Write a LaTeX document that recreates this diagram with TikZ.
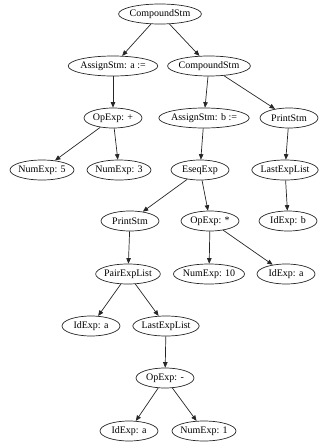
\documentclass[tikz,border=0pt]{standalone}
\usepackage{fontspec}
\setmainfont{Liberation Serif}
\usetikzlibrary{shapes.geometric,arrows.meta}
\tikzset{
  astnode/.style={draw=black!85,line width=0.7pt,ellipse,inner xsep=-1pt,inner ysep=0pt,
    minimum width=58pt,minimum height=20pt,font=\fontsize{10}{12}\selectfont},
  astedge/.style={draw=black!85,line width=0.7pt,-{Triangle[length=5.5pt,width=4.5pt]}}
}
\begin{document}
\begin{tikzpicture}[x=1pt,y=-1pt]
				\useasboundingbox (0,0) rectangle (320,442);
				\node[astnode] (c1) at (160,14) {CompoundStm};
				\node[astnode] (a1) at (113,66) {AssignStm: a :=};
				\node[astnode] (c2) at (209,66) {CompoundStm};
				\node[astnode] (op1) at (113,118) {OpExp: +};
				\node[astnode] (a2) at (204,118) {AssignStm: b :=};
				\node[astnode] (p1) at (289,118) {PrintStm};
				\node[astnode] (n5) at (42,170) {NumExp: 5};
				\node[astnode] (n3) at (119,170) {NumExp: 3};
				\node[astnode] (eseq) at (200,170) {EseqExp};
				\node[astnode] (last1) at (285,170) {LastExpList};
				\node[astnode] (p2) at (130,221) {PrintStm};
				\node[astnode] (op2) at (210,221) {OpExp: *};
				\node[astnode] (idb) at (288,221) {IdExp: b};
				\node[astnode] (pair) at (128,274) {PairExpList};
				\node[astnode] (n10) at (209,274) {NumExp: 10};
				\node[astnode] (ida1) at (286,274) {IdExp: a};
				\node[astnode] (ida2) at (91,326) {IdExp: a};
				\node[astnode] (last2) at (166,326) {LastExpList};
				\node[astnode] (op3) at (165,378) {OpExp: -};
				\node[astnode] (ida3) at (129,431) {IdExp: a};
				\node[astnode] (n1) at (204,431) {NumExp: 1};
				\draw[astedge] (c1) -- (a1);
				\draw[astedge] (c1) -- (c2);
				\draw[astedge] (a1) -- (op1);
				\draw[astedge] (c2) -- (a2);
				\draw[astedge] (c2) -- (p1);
				\draw[astedge] (op1) -- (n5);
				\draw[astedge] (op1) -- (n3);
				\draw[astedge] (a2) -- (eseq);
				\draw[astedge] (p1) -- (last1);
				\draw[astedge] (eseq) -- (p2);
				\draw[astedge] (eseq) -- (op2);
				\draw[astedge] (last1) -- (idb);
				\draw[astedge] (p2) -- (pair);
				\draw[astedge] (op2) -- (n10);
				\draw[astedge] (op2) -- (ida1);
				\draw[astedge] (pair) -- (ida2);
				\draw[astedge] (pair) -- (last2);
				\draw[astedge] (last2) -- (op3);
				\draw[astedge] (op3) -- (ida3);
				\draw[astedge] (op3) -- (n1);
			\end{tikzpicture}
\end{document}
